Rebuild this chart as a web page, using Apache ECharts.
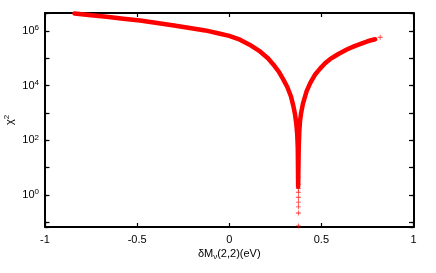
<!DOCTYPE html>
<html>
<head>
<meta charset="utf-8">
<script src="https://cdn.jsdelivr.net/npm/echarts@6/dist/echarts.min.js"></script>
<style>
html,body{margin:0;padding:0;background:#fff;}
#c{width:436px;height:273px;}
</style>
</head>
<body>
<div id="c"></div>
<script>
// x values of the dense band (delta M_nu(2,2) in eV)
const bandX = [-0.84, -0.75, -0.666, -0.575, -0.485, -0.40, -0.30, -0.214, -0.13, -0.05, 0.0, 0.058, 0.11, 0.167, 0.21,
               0.239, 0.268, 0.293, 0.315, 0.335, 0.348, 0.357, 0.364, 0.369, 0.372, 0.374,
               0.377, 0.380, 0.384, 0.39, 0.40, 0.42, 0.44, 0.465, 0.493, 0.52, 0.547, 0.59, 0.638, 0.68, 0.728, 0.765, 0.792];
// chi^2 values of the band
const bandY = [4.37e6, 3.80e6, 3.31e6, 2.82e6, 2.40e6, 2.0e6, 1.58e6, 1.29e6, 1.05e6, 7.9e5, 6.6e5, 4.8e5, 3.16e5, 1.78e5, 1.0e5,
               6.0e4, 3.3e4, 1.7e4, 8.9e3, 4.0e3, 1.78e3, 890, 400, 160, 50, 2.0,
               50, 200, 500, 1000, 2.2e3, 6.3e3, 1.26e4, 2.5e4, 4.2e4, 6.6e4, 9.3e4, 1.41e5, 2.1e5, 2.8e5, 3.7e5, 4.5e5, 5.0e5];
// isolated '+' points
const ptsX = [0.375, 0.375, 0.375, 0.375, 0.375, 0.375, 0.375, 0.375, 0.375, 0.819];
const ptsY = [4.5, 2.5, 1.7, 1.26, 0.83, 0.55, 0.37, 0.22, 0.074, 5.9e5];
// axis ticks
const xTicks = [-1, -0.5, 0, 0.5, 1];
const yMin = 0.0676, yMax = 4.55e6;

const chart = echarts.init(document.getElementById('c'), null, {renderer: 'canvas'});
const FONT = 'Liberation Sans';
const supFmt = v => {
  const e = Math.log10(v);
  const r = Math.round(e);
  if (Math.abs(e - r) > 1e-6 || r % 2 !== 0) return '';
  return '{b|10}{s|' + r + '}';
};
const plus = 'path://M0,2.1H5V2.9H0Z M2.1,0H2.9V5H2.1Z';
const baseX = {
  type: 'value', min: xTicks[0], max: xTicks[xTicks.length - 1], interval: 0.5,
  splitLine: {show: false},
  axisLine: {show: true, onZero: false, lineStyle: {color: '#000', width: 2}},
  axisTick: {show: true, inside: true, length: 4, lineStyle: {color: '#000', width: 1.2}}
};
const baseY = {
  type: 'log', logBase: 10, min: yMin, max: yMax,
  splitLine: {show: false},
  axisLine: {show: true, onZero: false, lineStyle: {color: '#000', width: 2}},
  axisLabel: {show: false}
};
chart.setOption({
  animation: false,
  backgroundColor: '#fff',
  grid: {left: 45, right: 22.5, top: 13, bottom: 46, containLabel: false, outerBoundsMode: 'none'},
  xAxis: [
    Object.assign({}, baseX, {
      position: 'bottom',
      name: '{a|δM}{sub|ν}{a|(2,2)(eV)}', nameLocation: 'middle', nameGap: 20, nameMoveOverlap: false,
      nameTextStyle: {rich: {
        a: {fontFamily: FONT, fontSize: 11, color: '#000', lineHeight: 14},
        sub: {fontFamily: FONT, fontSize: 8, color: '#000', verticalAlign: 'bottom', lineHeight: 9}
      }},
      axisLabel: {show: true, margin: 7, fontFamily: FONT, fontSize: 11, color: '#000',
        formatter: v => String(v)}
    }),
    Object.assign({}, baseX, {position: 'top', axisLabel: {show: false}})
  ],
  yAxis: [
    Object.assign({}, baseY, {
      position: 'left', splitNumber: 4,
      name: '{a|χ}{s|2}', nameLocation: 'middle', nameGap: 28, nameRotate: 90, nameMoveOverlap: false,
      nameTextStyle: {rich: {
        a: {fontFamily: FONT, fontSize: 11, color: '#000', lineHeight: 14},
        s: {fontFamily: FONT, fontSize: 8, color: '#000', verticalAlign: 'top', lineHeight: 8}
      }},
      axisTick: {show: true, inside: true, length: 4.5, lineStyle: {color: '#000', width: 1.2}},
      axisLabel: {show: true, margin: 6, formatter: supFmt, rich: {
        b: {fontFamily: FONT, fontSize: 11, color: '#000', lineHeight: 14},
        s: {fontFamily: FONT, fontSize: 8, color: '#000', verticalAlign: 'top', lineHeight: 8}
      }}
    }),
    Object.assign({}, baseY, {position: 'left', splitNumber: 8,
      axisLine: {show: false, onZero: false},
      axisTick: {show: true, inside: true, length: 2.5, lineStyle: {color: '#000', width: 1.2}}}),
    Object.assign({}, baseY, {position: 'right', splitNumber: 4,
      axisTick: {show: true, inside: true, length: 4.5, lineStyle: {color: '#000', width: 1.2}}}),
    Object.assign({}, baseY, {position: 'right', splitNumber: 8,
      axisLine: {show: false, onZero: false},
      axisTick: {show: true, inside: true, length: 2.5, lineStyle: {color: '#000', width: 1.2}}})
  ],
  series: [
    {
      type: 'line', xAxisIndex: 0, yAxisIndex: 0,
      data: bandX.map((x, i) => [x, bandY[i]]),
      showSymbol: false, symbol: 'none', smooth: false, clip: true,
      lineStyle: {color: '#ff0000', width: 4.5, cap: 'round', join: 'round'}
    },
    {
      type: 'scatter', xAxisIndex: 0, yAxisIndex: 0,
      data: ptsX.map((x, i) => [x, ptsY[i]]),
      symbol: plus, symbolSize: 5, clip: true,
      itemStyle: {color: '#ff0000'}
    }
  ]
});
</script>
</body>
</html>
